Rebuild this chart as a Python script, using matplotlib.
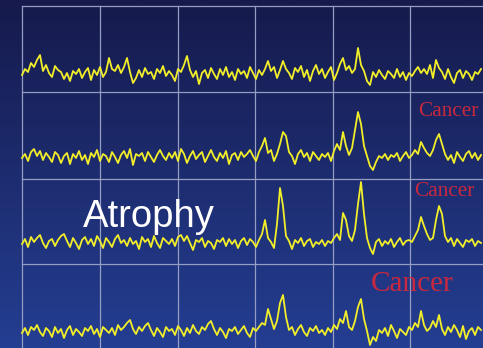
import numpy as np
import matplotlib
matplotlib.use("Agg")
import matplotlib.pyplot as plt

# ---- data (signal height above each trace baseline, one value every 3 px) ----
trace1 = [0, 6, 3, 12, 8, 15, 20, 4, 10, 2,
          -2, 9, 5, 3, -4, 2, -6, 4, 1, 6,
          -3, 3, 7, -5, 5, 0, 8, -2, 3, 17,
          6, 4, 10, 2, 8, 17, 3, -8, -3, 5,
          -2, 7, 1, 3, -4, 6, 2, 9, -1, 4,
          0, -6, 6, 3, 10, 19, 5, -2, 4, -9,
          2, 5, -3, 7, 1, -4, 6, 0, 8, -2,
          3, -5, 6, 1, 4, -3, 8, 2, -4, 5,
          0, 6, 14, 4, 8, -3, 5, 14, 6, 2,
          -4, 7, 3, 9, -2, 5, -6, 4, 10, 1,
          6, -3, 3, 8, -5, 2, 11, 17, 5, 9,
          2, 6, 27, 10, 4, -6, -10, 3, -2, 5,
          0, -4, 4, 1, -3, 6, -2, 3, -5, 2,
          -1, 4, 8, 2, 6, 1, 10, -3, 15, 7,
          3, -4, 6, -2, -8, 2, 5, -3, 4, 1,
          -5, 3, 1, 6]

trace2 = [0, 4, -3, 6, 9, 2, 7, -2, 5, 1,
          -4, 6, 3, -5, 2, 5, -6, 4, 0, 7,
          -2, 3, -6, 5, 1, 8, -3, 4, 2, -4,
          6, 1, -5, 3, 7, 0, 9, -7, 4, 2,
          5, -3, 6, 1, -4, 3, 8, 2, -2, 5,
          0, 6, -3, 9, 4, -5, 2, 7, -1, 3,
          6, -4, 2, 8, 1, -3, 5, 0, 7, -6,
          3, 5, -2, 6, 1, 4, 8, 2, -3, 6,
          12, 20, 5, 8, -3, 4, 14, 26, 22, 6,
          2, -6, 4, 8, 1, 5, -3, 6, 2, -2,
          4, 1, 5, -3, 7, 14, 8, 26, 12, 3,
          10, 28, 46, 34, 12, 2, -8, -12, -4, 2,
          0, 4, -2, 3, 1, 5, -3, 2, 6, 0,
          3, 8, 4, 16, 10, 5, 2, 8, 18, 24,
          14, 4, -2, 3, -5, 6, 1, -3, 4, 7,
          0, 5, -2, 3]

trace3 = [0, 5, -3, 7, 2, 6, 9, 1, -4, 3,
          5, -2, 4, 8, 10, 3, -3, 6, 1, -5,
          4, 7, 0, 5, -2, 8, 3, -4, 6, 2,
          -3, 5, 9, 1, 4, -2, 6, 0, 3, -5,
          7, 2, 5, -3, 8, 1, -4, 6, 3, 0,
          5, -2, 7, 9, 3, 8, 1, -6, 4, 2,
          6, -3, 3, 1, -5, 4, 2, 6, -2, 5,
          0, 4, -4, 3, 6, -1, 5, 2, -3, 4,
          10, 24, 6, 2, -4, 20, 56, 38, 8, 3,
          -5, 4, 1, 6, -2, 3, 5, -3, 2, 0,
          4, -2, 3, 1, 6, 10, 4, 31, 24, 8,
          3, 14, 40, 62, 30, 6, -4, -10, 2, 5,
          -2, 3, 0, 5, -3, 2, 6, -1, 3, 4,
          2, 8, 14, 27, 18, 10, 4, 6, 24, 38,
          30, 8, 2, 6, -2, 5, 1, -3, 4, 2,
          5, -2, 3, 1]

trace4 = [0, 5, -2, 6, 3, 8, 1, -3, 5, 2,
          -4, 6, 0, 4, -5, 3, 7, -2, 4, 1,
          -3, 5, 2, 7, -1, 4, -4, 6, 3, 0,
          5, -2, 8, 3, 6, 10, 13, 4, -1, 6,
          2, 7, 10, 3, -3, 5, 1, -4, 6, 2,
          4, -2, 7, 3, -3, 5, 0, 8, 2, -1,
          6, 3, 9, 12, 4, -2, 5, 1, -5, 4,
          2, 6, -1, 3, 7, 0, -4, 5, 2, 6,
          10, 8, 24, 14, 4, 12, 30, 38, 16, 3,
          6, -2, 4, 8, 1, -3, 5, 2, 7, 0,
          3, -2, 5, 1, 8, 4, 14, 10, 22, 6,
          3, 12, 26, 34, 14, 2, -12, -4, -8, 3,
          0, 5, -3, 8, 2, -5, 4, 1, -2, 6,
          3, 10, 6, 22, 8, 2, 5, 12, 6, 18,
          4, -2, 6, 1, 8, 3, -4, 7, -6, 2,
          5, -2, 6, 3]

traces = [trace1, trace2, trace3, trace4]
labels = ["Cancer", "Cancer", "Cancer"]
side_label = "Atrophy"

# ---- layout / style ----
W, H = 483, 348
X0, DX = 22, 3
baselines = [75, 158, 244, 333]
vgrid = [22, 100, 178, 255, 333, 410, 488]
hgrid = [6, 92, 179, 264]

fig = plt.figure(figsize=(W / 100, H / 100), dpi=100)
ax = fig.add_axes([0, 0, 1, 1])
ax.set_xlim(0, W)
ax.set_ylim(H, 0)
ax.axis("off")

# background gradient (dark navy top -> brighter blue bottom)
top = np.array([22, 26, 76]) / 255
bot = np.array([36, 62, 146]) / 255
t = np.linspace(0, 1, 256)[:, None]
grad = (top[None, :] * (1 - t) + bot[None, :] * t)[:, None, :]
ax.imshow(grad, extent=[0, W, H, 0], aspect="auto", zorder=0)

gcol = "#959dc2"
for x in vgrid:
    ax.plot([x, x], [hgrid[0], H], color=gcol, lw=0.9, zorder=1)
for y in hgrid:
    ax.plot([vgrid[0], W + 5], [y, y], color=gcol, lw=0.9, zorder=1)

for tr, b in zip(traces, baselines):
    v = np.array(tr, dtype=float)
    x = X0 + DX * np.arange(len(v))
    ax.plot(x, b - v, color="#f2ee2a", lw=1.3, zorder=3)

ax.text(83, 227, side_label, color="white", fontsize=27.5,
        family="Liberation Sans", va="baseline", ha="left", zorder=4)
red = "#c9283e"
ax.text(418, 116, labels[0], color=red, fontsize=15.3,
        family="Liberation Serif", va="baseline", ha="left", zorder=4)
ax.text(414, 196, labels[1], color=red, fontsize=15.3,
        family="Liberation Serif", va="baseline", ha="left", zorder=4)
ax.text(371, 291, labels[2], color=red, fontsize=21,
        family="Liberation Serif", va="baseline", ha="left", zorder=4)

fig.savefig("out.png", dpi=100)
